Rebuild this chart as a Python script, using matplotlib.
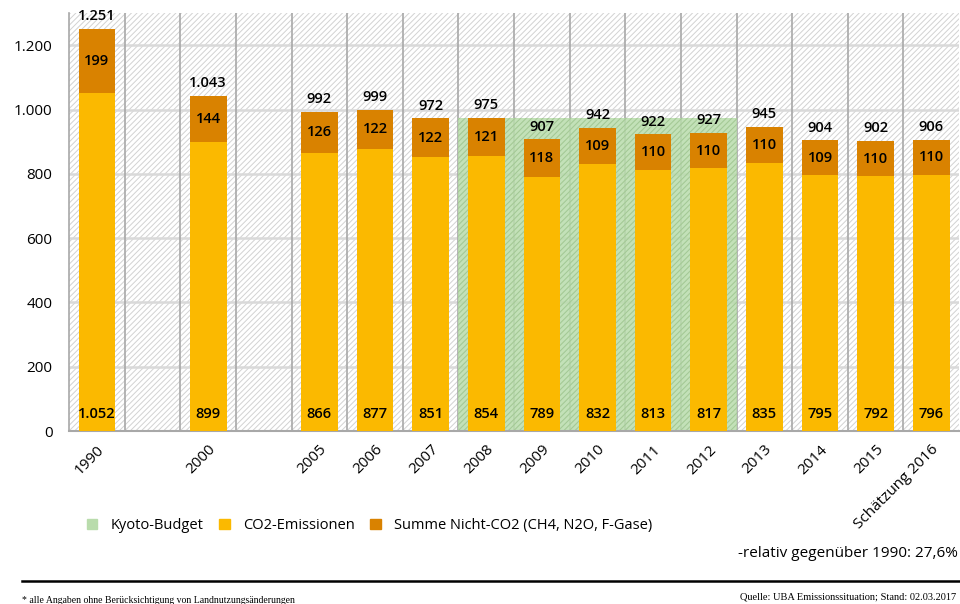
#!/usr/bin/env python3
"""Treibhausgas-Emissionen in Deutschland seit 1990 - gestapelte Balken."""

import matplotlib
matplotlib.use("Agg")
import matplotlib.pyplot as plt
from matplotlib.patches import Patch
from matplotlib.ticker import FuncFormatter

plt.rcParams['font.family'] = ['Open Sans', 'DejaVu Sans']
plt.rcParams['hatch.color'] = '#d2d2d2'
plt.rcParams['hatch.linewidth'] = 0.7

# Data (Mio. t CO2-Äquivalente)
years = ['1990', '', '2000', '', '2005', '2006', '2007', '2008', '2009',
         '2010', '2011', '2012', '2013', '2014', '2015', 'Schätzung 2016']
co2 = [1052, None, 899, None, 866, 877, 851, 854, 789, 832, 813, 817, 835, 795, 792, 796]
non_co2 = [199, None, 144, None, 126, 122, 122, 121, 118, 109, 110, 110, 110, 109, 110, 110]
totals = [1251, None, 1043, None, 992, 999, 972, 975, 907, 942, 922, 927, 945, 904, 902, 906]
kyoto_years = ['2008', '2009', '2010', '2011', '2012']
kyoto_budget = 973

C_CO2 = '#fbb900'
C_NON = '#d98200'
C_KYOTO = '#b9dcac'


def de(v):
    return f'{int(v):,}'.replace(',', '.')


fig = plt.figure(figsize=(9.6, 6.04), dpi=100)
ax = fig.add_axes([0.072, 0.2864, 0.927, 0.692])

n = len(years)
xs = list(range(n))
ymax = 1300

# hatched background
ax.bar(n / 2 - 0.5, ymax, width=n, bottom=0, color='white', hatch='//////',
       edgecolor='#d2d2d2', linewidth=0, zorder=0)

# horizontal grid
for y in range(200, 1400, 200):
    ax.axhline(y, color='#d9d9d9', linewidth=1.8, zorder=1)
# vertical separators
for i in range(1, n):
    ax.axvline(i - 0.5, color='#a8a8a8', linewidth=1.2, zorder=1)

# Kyoto budget band
k_idx = [years.index(k) for k in kyoto_years]
ax.bar((k_idx[0] + k_idx[-1]) / 2, kyoto_budget, width=len(k_idx),
       color=C_KYOTO, alpha=0.85, linewidth=0, zorder=2)
ax.bar((k_idx[0] + k_idx[-1]) / 2, kyoto_budget, width=len(k_idx),
       color='none', hatch='//////', edgecolor='#a3c994', linewidth=0, zorder=2)

bw = 0.66
for i in xs:
    if co2[i] is None:
        continue
    ax.bar(i, co2[i], width=bw, color=C_CO2, linewidth=0, zorder=3)
    ax.bar(i, non_co2[i], width=bw, bottom=co2[i], color=C_NON, linewidth=0, zorder=3)
    ax.text(i, 53, de(co2[i]), ha='center', va='center', fontsize=10.5,
            fontweight='semibold', zorder=4)
    ax.text(i, co2[i] + non_co2[i] / 2, str(non_co2[i]), ha='center', va='center',
            fontsize=10.5, fontweight='semibold', zorder=4)
    ax.text(i, totals[i] + 40, de(totals[i]), ha='center', va='center',
            fontsize=10.5, fontweight='semibold', zorder=4)

ax.set_xlim(-0.5, n - 0.5)
ax.set_ylim(0, ymax)
ax.set_yticks(range(0, 1400, 200))
ax.yaxis.set_major_formatter(FuncFormatter(lambda v, p: de(v)))
ax.set_xticks(xs)
ax.set_xticklabels(years, rotation=45, ha='right', rotation_mode='anchor', fontsize=10)
ax.tick_params(axis='both', length=0, labelsize=11)
ax.tick_params(axis='x', pad=8)
ax.tick_params(axis='y', pad=12)
for s in ['top', 'right']:
    ax.spines[s].set_visible(False)
ax.spines['left'].set_color('#a8a8a8')
ax.spines['bottom'].set_color('#a8a8a8')
ax.spines['left'].set_linewidth(1.2)
ax.spines['bottom'].set_linewidth(1.5)

handles = [Patch(color=C_KYOTO), Patch(color=C_CO2), Patch(color=C_NON)]
labels = ['Kyoto-Budget', 'CO2-Emissionen', 'Summe Nicht-CO2 (CH4, N2O, F-Gase)']
fig.legend(handles, labels, loc='center left', bbox_to_anchor=(0.077, 0.13),
           ncol=3, frameon=False, fontsize=10.5, handlelength=0.7, handleheight=0.7,
           columnspacing=1.1, handletextpad=0.9)

fig.text(0.998, 0.084, '-relativ gegenüber 1990: 27,6%', ha='right', va='center',
         fontsize=11)
fig.add_artist(plt.Line2D([0.023, 1.0], [0.038, 0.038], color='black', linewidth=1.8,
                          transform=fig.transFigure))
fig.text(0.023, 0.006, '* alle Angaben ohne Berücksichtigung von Landnutzungsänderungen',
         ha='left', va='center', fontsize=7, family=['Liberation Serif', 'DejaVu Serif'])
fig.text(0.771, 0.012, 'Quelle: UBA Emissionssituation; Stand: 02.03.2017',
         ha='left', va='center', fontsize=7.5, family=['Liberation Serif', 'DejaVu Serif'])

fig.savefig('out.png', dpi=100, facecolor='white')
